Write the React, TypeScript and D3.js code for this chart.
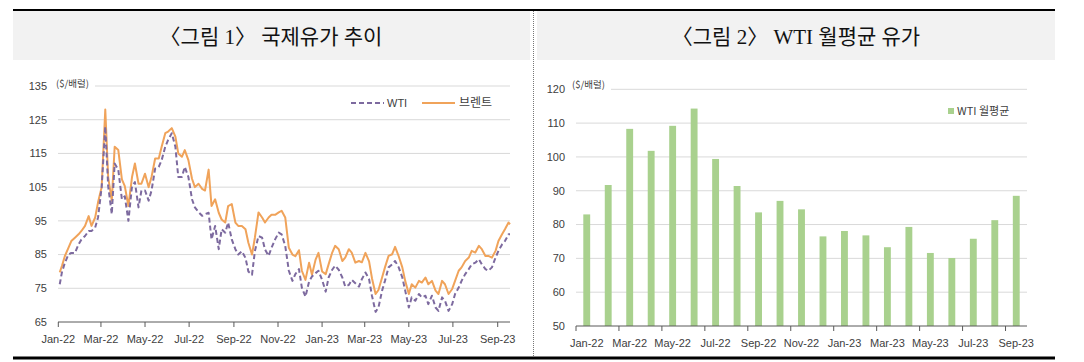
import * as d3 from 'd3'

// daily-ish readings (approx. every 4-5 days) of the two crude benchmarks
const lineDates = [
  '2022-01-03', '2022-01-06', '2022-01-10', '2022-01-15', '2022-01-19', '2022-01-24', '2022-01-29',
  '2022-02-02', '2022-02-07', '2022-02-12', '2022-02-16', '2022-02-21', '2022-02-25',
  '2022-03-02', '2022-03-07', '2022-03-11', '2022-03-16', '2022-03-20', '2022-03-25', '2022-03-30',
  '2022-04-03', '2022-04-08', '2022-04-13', '2022-04-17', '2022-04-22', '2022-04-26',
  '2022-05-01', '2022-05-06', '2022-05-10', '2022-05-15', '2022-05-20', '2022-05-24', '2022-05-29',
  '2022-06-02', '2022-06-07', '2022-06-12', '2022-06-16', '2022-06-21', '2022-06-25', '2022-06-30',
  '2022-07-05', '2022-07-09', '2022-07-14', '2022-07-19', '2022-07-23', '2022-07-28',
  '2022-08-01', '2022-08-06', '2022-08-11', '2022-08-15', '2022-08-20', '2022-08-24', '2022-08-29',
  '2022-09-03', '2022-09-07', '2022-09-12', '2022-09-17', '2022-09-21', '2022-09-26', '2022-09-30',
  '2022-10-05', '2022-10-10', '2022-10-14', '2022-10-19', '2022-10-23', '2022-10-28',
  '2022-11-02', '2022-11-06', '2022-11-11', '2022-11-16', '2022-11-21', '2022-11-25', '2022-11-30',
  '2022-12-04', '2022-12-09', '2022-12-14', '2022-12-18', '2022-12-23', '2022-12-27',
  '2023-01-01', '2023-01-06', '2023-01-10', '2023-01-15', '2023-01-19', '2023-01-24', '2023-01-29',
  '2023-02-02', '2023-02-07', '2023-02-11', '2023-02-16', '2023-02-21', '2023-02-25',
  '2023-03-02', '2023-03-07', '2023-03-11', '2023-03-16', '2023-03-20', '2023-03-25', '2023-03-29',
  '2023-04-03', '2023-04-08', '2023-04-12', '2023-04-17', '2023-04-22', '2023-04-26',
  '2023-05-01', '2023-05-05', '2023-05-10', '2023-05-15', '2023-05-19', '2023-05-24', '2023-05-28',
  '2023-06-02', '2023-06-07', '2023-06-11', '2023-06-16', '2023-06-20', '2023-06-25', '2023-06-30',
  '2023-07-04', '2023-07-09', '2023-07-13', '2023-07-18', '2023-07-23', '2023-07-27',
  '2023-08-01', '2023-08-06', '2023-08-10', '2023-08-15', '2023-08-19', '2023-08-24', '2023-08-29',
  '2023-09-02', '2023-09-07', '2023-09-11', '2023-09-16', '2023-09-18',
]

const wti = [
  76.2, 79.7, 82.5, 85, 85.5, 85.5, 88, 89.5, 90.5, 92, 92, 93, 96, 105, 123, 105.3, 97, 112, 110.2, 101.4,
  102.3, 95, 105.3, 106.5, 99, 104, 104, 101, 104, 110.5, 111, 113, 117, 119, 121, 117, 108, 108, 111, 108,
  101.4, 99, 97.6, 96.5, 97, 97.4, 89.5, 93.5, 86.6, 92.5, 91.5, 94.5, 89.5, 86.6, 85, 86, 84, 80, 79, 86,
  90.5, 90, 86.5, 84.6, 87, 89.5, 91.5, 91, 87.6,
  80.2, 77.2, 79.2, 80.7, 75.2, 72.5, 77, 78.5, 79.5, 80.2, 77.5, 74, 78.2, 80.5, 81.7, 80.5, 78.2, 75.5, 76, 77.5,
  76.5, 75.5, 77.7, 79.7, 77.7, 72.8, 68, 69.3, 74.3, 77.2, 81.2, 82.1, 83.1, 81.2, 78.2, 74.3, 69.3, 72.3, 71.3, 73.3,
  72.3, 72.8, 70.3, 72.8, 69.3, 68.3, 72.3, 71.3, 68.3, 70.3, 73.3, 75.2, 77.2, 79.2, 80.7, 82.1, 82.6, 83.6, 82.1, 80.7,
  80.2, 81.2, 84.1, 86.1, 88, 89, 91, 91,
]

const brent = [
  79.7, 81.6, 84.5, 87, 89, 90, 91, 92, 93.5, 96.4, 93.5, 96, 100.5, 105, 128, 108, 101, 117, 116, 107.3,
  105.3, 99.4, 108, 112, 106, 106, 109, 105, 108, 113.5, 113.5, 117, 121, 121.5, 122.5, 120, 115, 114, 116, 113,
  107.5, 105, 106, 104.5, 104, 110.2, 99.4, 101.4, 97.4, 95.4, 94.5, 99.4, 100, 94.5, 93.5, 93.5, 92.5, 88.5, 85, 90,
  97.5, 96, 94.5, 96, 96.8, 96.8, 97.5, 98, 96,
  87, 85, 84.5, 86.3, 80.2, 77.5, 82.6, 79, 83.5, 85.5, 80, 79.2, 82.1, 85.6, 87.6, 86.6, 83.1, 84.1, 86.6, 85.6,
  82.6, 83.1, 82.7, 85.5, 83, 78, 73.3, 74.5, 78.2, 81.2, 84.6, 85.1, 87.3, 84.5, 81.2, 77.2, 73.3, 76.2, 75.2, 77.2,
  76.7, 78.2, 76.2, 77.2, 74.3, 73.3, 77.2, 76.2, 73.3, 74.8, 77.2, 80.2, 81.2, 83.1, 84.1, 86.1, 85.6, 87.6, 86.6, 84.6,
  84.6, 84.1, 86.1, 89, 91, 92.5, 94.5, 94,
]

const lineTicks = [
  '2022-01-01', '2022-03-01', '2022-05-01', '2022-07-01', '2022-09-01', '2022-11-01',
  '2023-01-01', '2023-03-01', '2023-05-01', '2023-07-01', '2023-09-01',
]
const lineYTicks = [65, 75, 85, 95, 105, 115, 125, 135]

const months = [
  'Jan-22', 'Feb-22', 'Mar-22', 'Apr-22', 'May-22', 'Jun-22', 'Jul-22', 'Aug-22', 'Sep-22', 'Oct-22', 'Nov-22',
  'Dec-22', 'Jan-23', 'Feb-23', 'Mar-23', 'Apr-23', 'May-23', 'Jun-23', 'Jul-23', 'Aug-23', 'Sep-23',
]
const wtiMonthly = [
  83.0, 91.7, 108.3, 101.8, 109.2, 114.3, 99.4, 91.4, 83.6, 87.0, 84.5,
  76.5, 78.1, 76.8, 73.3, 79.3, 71.6, 70.1, 75.8, 81.3, 88.5,
]
const barYTicks = [50, 60, 70, 80, 90, 100, 110, 120]

const SANS = "'Liberation Sans', 'Noto Sans CJK KR', sans-serif"
const KR = "'Noto Sans CJK KR', 'Liberation Sans', sans-serif"
const SERIF = "'Liberation Serif', 'Noto Sans CJK KR', serif"
const WTI_COLOR = '#7d6a9f'
const BRENT_COLOR = '#f0a35a'
const BAR_COLOR = '#a9d18e'
const GRID = '#d9d9d9'
const TEXT = '#404040'

const parse = d3.timeParse('%Y-%m-%d')

function LineChart() {
  const dates = lineDates.map((d) => parse(d) as Date)
  const x = d3.scaleTime().domain([new Date(2022, 0, 1), new Date(2023, 8, 18)]).range([58.3, 510])
  const y = d3.scaleLinear().domain([65, 135]).range([322, 86])
  const line = d3
    .line<number>()
    .x((_, i) => x(dates[i]))
    .y((v) => y(v))
  const fmt = d3.timeFormat('%b-%y')

  return (
    <g>
      {lineYTicks.slice(1).map((t) => (
        <line key={t} x1={58} x2={510} y1={y(t)} y2={y(t)} stroke={GRID} strokeWidth={1} />
      ))}
      <rect x={55} y={77} width={40} height={14} fill="#fff" />
      <text x={56} y={87} fontFamily={KR} fontSize={9.5} fill={TEXT}>
        ($/배럴)
      </text>
      {lineYTicks.map((t) => (
        <text key={t} x={47} y={y(t)} dy="0.35em" textAnchor="end" fontFamily={SANS} fontSize={11} fill={TEXT}>
          {t}
        </text>
      ))}
      <path d={line(brent) ?? undefined} fill="none" stroke={BRENT_COLOR} strokeWidth={2} strokeLinejoin="round" />
      <path
        d={line(wti) ?? undefined}
        fill="none"
        stroke={WTI_COLOR}
        strokeWidth={2}
        strokeDasharray="5,3"
        strokeLinejoin="round"
      />
      <line x1={58} x2={510} y1={y(65)} y2={y(65)} stroke="#595959" strokeWidth={1} />
      {lineTicks.map((t) => {
        const d = parse(t) as Date
        return (
          <g key={t} transform={`translate(${x(d)},${y(65)})`}>
            <line y1={0} y2={5} stroke="#595959" />
            <text y={21} textAnchor="middle" fontFamily={SANS} fontSize={11} fill={TEXT}>
              {fmt(d)}
            </text>
          </g>
        )
      })}
      <g transform="translate(351,103)">
        <line x1={0} x2={33} y1={0} y2={0} stroke={WTI_COLOR} strokeWidth={2} strokeDasharray="5,3" />
        <text x={36} y={0} dy="0.35em" fontFamily={SANS} fontSize={11} fill={TEXT}>
          WTI
        </text>
        <line x1={71} x2={104} y1={0} y2={0} stroke={BRENT_COLOR} strokeWidth={2} />
        <text x={108} y={0} dy="0.35em" fontFamily={KR} fontSize={12} fill={TEXT}>
          브렌트
        </text>
      </g>
    </g>
  )
}

function BarChart() {
  const x = d3.scaleBand<string>().domain(months).range([576, 1027]).paddingInner(0.68).paddingOuter(0.34)
  const y = d3.scaleLinear().domain([50, 120]).range([326, 89.3])
  const step = x.step()
  const x0 = 576

  return (
    <g>
      {barYTicks.slice(1).map((t) => (
        <line key={t} x1={576} x2={1027} y1={y(t)} y2={y(t)} stroke={GRID} strokeWidth={1} />
      ))}
      <rect x={571} y={78} width={40} height={14} fill="#fff" />
      <text x={572} y={88} fontFamily={KR} fontSize={9.5} fill={TEXT}>
        ($/배럴)
      </text>
      {barYTicks.map((t) => (
        <text key={t} x={565} y={y(t)} dy="0.35em" textAnchor="end" fontFamily={SANS} fontSize={11} fill={TEXT}>
          {t}
        </text>
      ))}
      {months.map((m, i) => (
        <rect
          key={m}
          x={x(m)}
          y={y(wtiMonthly[i])}
          width={x.bandwidth()}
          height={y(50) - y(wtiMonthly[i])}
          fill={BAR_COLOR}
        />
      ))}
      <line x1={576} x2={1027} y1={y(50)} y2={y(50)} stroke="#595959" strokeWidth={1} />
      {months.map((m, i) =>
        i % 2 === 0 ? (
          <g key={m}>
            <line x1={x0 + i * step} x2={x0 + i * step} y1={y(50)} y2={y(50) + 5} stroke="#595959" />
            <text
              x={(x(m) ?? 0) + x.bandwidth() / 2}
              y={y(50) + 21}
              textAnchor="middle"
              fontFamily={SANS}
              fontSize={11}
              fill={TEXT}
            >
              {m}
            </text>
          </g>
        ) : null,
      )}
      <rect x={948} y={108} width={6} height={6} fill={BAR_COLOR} />
      <text x={957} y={111} dy="0.35em" fontFamily={KR} fontSize={11} fill={TEXT}>
        WTI 월평균
      </text>
    </g>
  )
}

export default function App() {
  return (
    <svg
      width={1084}
      height={362}
      viewBox="0 0 1084 362"
      style={{ position: 'absolute', left: 0, top: 0, background: '#fff' }}
    >
      <rect x={0} y={0} width={1084} height={362} fill="#fff" />
      <line x1={13} x2={1055} y1={10} y2={10} stroke="#000" strokeWidth={2} />
      <rect x={13} y={11} width={517} height={49} fill="#f2f2f2" />
      <rect x={537} y={11} width={518} height={49} fill="#f2f2f2" />
      <text x={271} y={44} textAnchor="middle" fontFamily={SERIF} fontSize={21} fill="#111">
        〈그림 1〉 국제유가 추이
      </text>
      <text x={796} y={44} textAnchor="middle" fontFamily={SERIF} fontSize={21} fill="#111">
        〈그림 2〉 WTI 월평균 유가
      </text>
      <line x1={533.5} x2={533.5} y1={11} y2={356} stroke="#777" strokeWidth={1} strokeDasharray="1,1" />
      <LineChart />
      <BarChart />
      <line x1={13} x2={1055} y1={358} y2={358} stroke="#000" strokeWidth={3} />
    </svg>
  )
}
